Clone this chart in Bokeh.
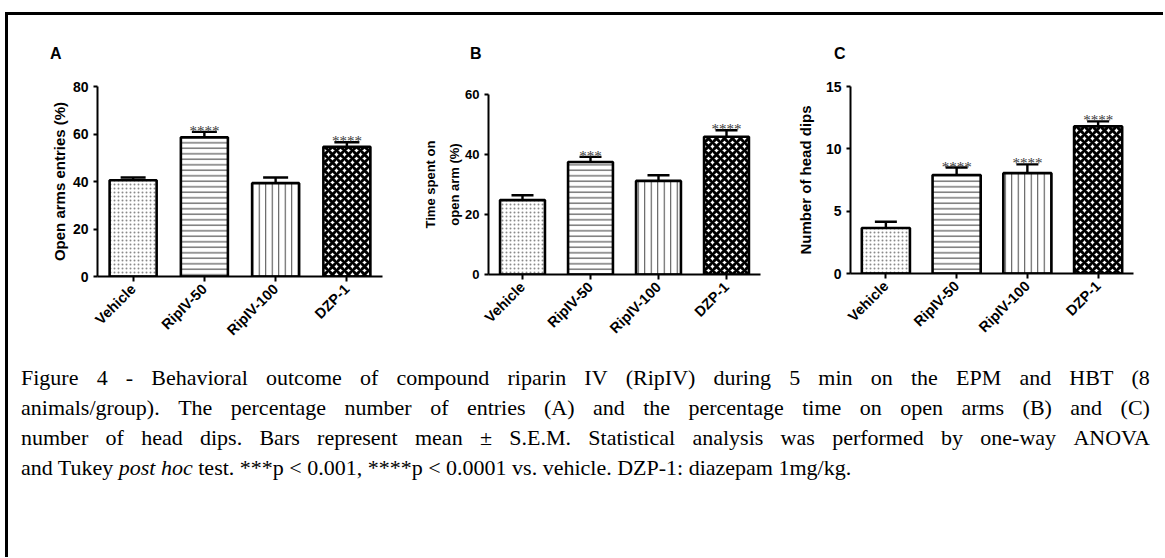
import math
from bokeh.plotting import figure
from bokeh.models import FactorRange, Range1d, ColumnDataSource, Whisker, TeeHead, Div, Spacer, FixedTicker
from bokeh.layouts import row, column
from bokeh.embed import file_html
from bokeh.resources import INLINE

# ---------------- data ----------------
groups = ["Vehicle", "RipIV-50", "RipIV-100", "DZP-1"]

entries_mean = [40.5, 58.6, 39.3, 54.6]
entries_sem = [1.2, 2.3, 2.4, 1.9]
entries_sig = ["", "****", "", "****"]
entries_ticks = [0, 20, 40, 60, 80]

time_mean = [24.8, 37.5, 31.2, 45.9]
time_sem = [1.6, 1.7, 1.9, 2.2]
time_sig = ["", "***", "", "****"]
time_ticks = [0, 20, 40, 60]

dips_mean = [3.65, 7.9, 8.05, 11.8]
dips_sem = [0.5, 0.6, 0.7, 0.4]
dips_sig = ["", "****", "****", "****"]
dips_ticks = [0, 5, 10, 15]

caption_lines = [
    "Figure 4 - Behavioral outcome of compound riparin IV (RipIV) during 5 min on the EPM and HBT (8",
    "animals/group). The percentage number of entries (A) and the percentage time on open arms (B) and (C)",
    "number of head dips. Bars represent mean \u00b1 S.E.M. Statistical analysis was performed by one-way ANOVA",
]
caption_last = ("and Tukey <i>post hoc</i> test. ***p &lt; 0.001, ****p &lt; 0.0001 vs. vehicle. "
                "DZP-1: diazepam 1mg/kg.")

# ---------------- styles ----------------
bar_styles = [
    dict(fill_color="white", hatch_pattern=".", hatch_color="#8a8a8a", hatch_scale=4, hatch_weight=1),
    dict(fill_color="white", hatch_pattern="-", hatch_color="#333333", hatch_scale=5.5, hatch_weight=1),
    dict(fill_color="white", hatch_pattern="|", hatch_color="#444444", hatch_scale=6.5, hatch_weight=1),
    dict(fill_color="white", hatch_pattern="x", hatch_color="black", hatch_scale=8, hatch_weight=3),
]
SANS = "Liberation Sans"
HEAD_H = 47   # strip above each figure holding the panel letter


def make_panel(means, sems, sig, ticks, ylabel, ymax, fw, fh, bl, br, bt, bb,
               bar_w, letter, letter_x, label_size, tick_size, label_standoff, label_lh, cap):
    p = figure(x_range=FactorRange(*groups, range_padding=0), y_range=Range1d(0, ymax),
               frame_width=fw, frame_height=fh,
               min_border_left=bl, min_border_right=br, min_border_top=bt,
               min_border_bottom=bb, output_backend="svg", toolbar_location=None)
    p.outline_line_color = None
    p.xgrid.grid_line_color = None
    p.ygrid.grid_line_color = None
    p.background_fill_color = "white"
    p.border_fill_color = "white"

    for i, g in enumerate(groups):
        src = ColumnDataSource(dict(x=[g], top=[means[i]]))
        p.vbar(x="x", top="top", width=bar_w, source=src, line_color="black", line_width=2.6,
               **bar_styles[i])

    upper = [m + s for m, s in zip(means, sems)]
    esrc = ColumnDataSource(dict(x=groups, top=means, upper=upper, sig=sig))
    w = Whisker(base="x", upper="upper", lower="top", source=esrc, dimension="height",
                line_width=2.4, line_color="black",
                upper_head=TeeHead(size=cap, line_width=2.4, line_color="black"), lower_head=None)
    p.add_layout(w)
    p.text(x="x", y="upper", text="sig", source=esrc, text_align="center",
           text_baseline="alphabetic", y_offset=-1, text_font_size="15px",
           text_color="#3a3a3a", text_font=SANS)

    for ax in (p.xaxis, p.yaxis):
        ax.axis_line_width = 2
        ax.major_tick_line_width = 2
        ax.major_tick_in = 0
        ax.minor_tick_line_color = None
        ax.major_label_text_font = SANS
        ax.major_label_text_font_style = "bold"
        ax.major_label_text_color = "black"
        ax.axis_label_text_font = SANS
        ax.axis_label_text_font_style = "bold"
        ax.axis_label_text_color = "black"
    p.xaxis.major_tick_out = 5
    p.yaxis.major_tick_out = 4
    p.xaxis.major_label_orientation = math.pi / 4
    p.xaxis.major_label_text_font_size = "14.5px"
    p.yaxis.major_label_text_font_size = tick_size
    p.yaxis.ticker = FixedTicker(ticks=ticks)
    p.yaxis.axis_label = ylabel
    p.yaxis.axis_label_text_font_size = label_size
    p.yaxis.axis_label_text_line_height = label_lh
    p.yaxis.axis_label_standoff = label_standoff

    head = Div(
        text=('<div style="font-family:\'Liberation Sans\',Arial,sans-serif;font-weight:bold;'
              'font-size:16px;line-height:16px;color:black;padding-top:31px;margin-left:%dpx;">%s</div>'
              % (letter_x, letter)),
        width=fw + bl + br, height=HEAD_H, margin=0)
    return column(head, p, spacing=0)


pA = make_panel(entries_mean, entries_sem, entries_sig, entries_ticks, "Open arms entries (%)", 80,
                285, 190, 89, 18, 24, 74, 0.66, "A", 42, "15px", "14px", 2, 1.2, 25)
pB = make_panel(time_mean, time_sem, time_sig, time_ticks, "Time spent on\nopen arm (%)", 60,
                272, 180, 88, 20, 32, 76, 0.66, "B", 70, "13px", "13px", 0, 1.6, 22)
pC = make_panel(dips_mean, dips_sem, dips_sig, dips_ticks, "Number of head dips", 15,
                283, 187, 70, 12, 24, 77, 0.68, "C", 54, "15px", "14px", 9, 1.2, 22)

line_divs = []
for ln in caption_lines:
    spans = "".join("<span>%s</span>" % w for w in ln.split(" "))
    line_divs.append('<div style="display:flex;justify-content:space-between;white-space:nowrap;">%s</div>' % spans)
line_divs.append('<div style="white-space:nowrap;">%s</div>' % caption_last)

html = ('<div style="font-family:\'Liberation Serif\',\'Times New Roman\',serif;font-size:22px;'
        'line-height:30px;color:black;margin-left:13px;width:1129px;padding-top:13px;">'
        + "".join(line_divs) + "</div>")
caption = Div(text=html, width=1150, height=150, margin=0)

top_line = Spacer(width=1155, height=3, styles={"background-color": "black"})
left_line = Spacer(width=3, height=545, styles={"background-color": "black"})

content = column(Spacer(height=12), top_line,
                 row(pA, pB, pC, spacing=0),
                 caption, spacing=0)
layout = row(Spacer(width=5), column(Spacer(height=12), left_line, spacing=0), content, spacing=0)

open("out.html", "w").write(file_html(layout, INLINE))
